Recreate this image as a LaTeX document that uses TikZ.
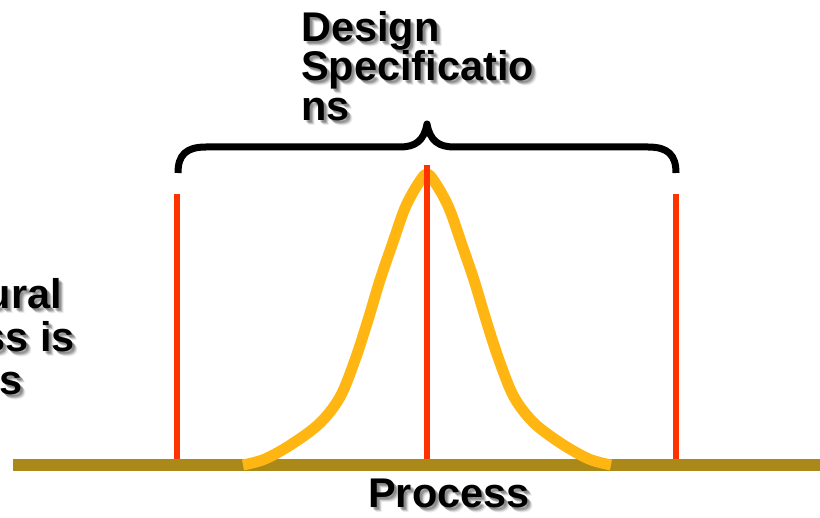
\documentclass[tikz,border=0pt]{standalone}
\usepackage{fontspec}
\setmainfont{Liberation Sans}
\definecolor{axisgold}{HTML}{AA8918}
\definecolor{speclimit}{HTML}{FF3300}
\definecolor{bellcurve}{HTML}{FFB612}
\newcommand\shadowlabel[4]{%
  \foreach \o/\a in {2/0.14,3/0.2,4/0.14,5/0.08}{%
    \node[caption, anchor=#3, text=black, opacity=\a, shift={(\o,\o)}] at (#2) {#4};}
  \node[caption, anchor=#3] (#1) at (#2) {#4};}
\begin{document}
\begin{tikzpicture}[x=1pt,y=-1pt,
  caption/.style={font=\fontsize{41.5}{39.5}\selectfont\bfseries, inner sep=0pt, align=left},
  limitline/.style={draw=speclimit, line width=6pt},
  bracestroke/.style={draw=black, line width=7pt, line join=round},
  axisline/.style={draw=axisgold, line width=12pt},
  bellstroke/.style={draw=bellcurve, line width=11pt, line join=round}]
\useasboundingbox (0,0) rectangle (820,518);

% horizontal process axis
\coordinate (axisL) at (13,465);
\coordinate (axisR) at (820,465);
\draw[axisline] (axisL) -- (axisR);

% distribution curve
\draw[bellstroke] plot[smooth, tension=0.55] coordinates {
  (243,465) (265,459) (292,444) (320,423) (340,397) (355,360) (368,320)
  (380,280) (392,245) (405,208) (418,184) (427,174)
  (436,184) (449,208) (462,245) (474,280) (486,320) (499,360) (514,397)
  (534,423) (562,444) (589,459) (611,465)};

% specification limits and target
\coordinate (lslT) at (177,194); \coordinate (lslB) at (177,459);
\coordinate (tgtT) at (427,165); \coordinate (tgtB) at (427,459);
\coordinate (uslT) at (676,194); \coordinate (uslB) at (676,459);
\draw[limitline] (lslT) -- (lslB);
\draw[limitline] (tgtT) -- (tgtB);
\draw[limitline] (uslT) -- (uslB);

% curly brace spanning the specification range
\coordinate (braceL) at (178,173);
\coordinate (braceTip) at (427,124);
\coordinate (braceR) at (676,173);
\draw[bracestroke] (braceL) .. controls (178,155) and (186,147) .. (206,147)
  -- (400,147) .. controls (415,147) and (424,141) .. (braceTip)
  .. controls (430,141) and (439,147) .. (454,147)
  -- (648,147) .. controls (668,147) and (676,155) .. (braceR);

% labels
\shadowlabel{spec}{301,11}{north west}{Design\\Specificatio\\ns}
\shadowlabel{nat1}{62,309}{base east}{ural}
\shadowlabel{nat2}{75,352}{base east}{ss is}
\shadowlabel{nat3}{23,395}{base east}{s}
\shadowlabel{proc}{449,508}{base}{Process}
\end{tikzpicture}
\end{document}
